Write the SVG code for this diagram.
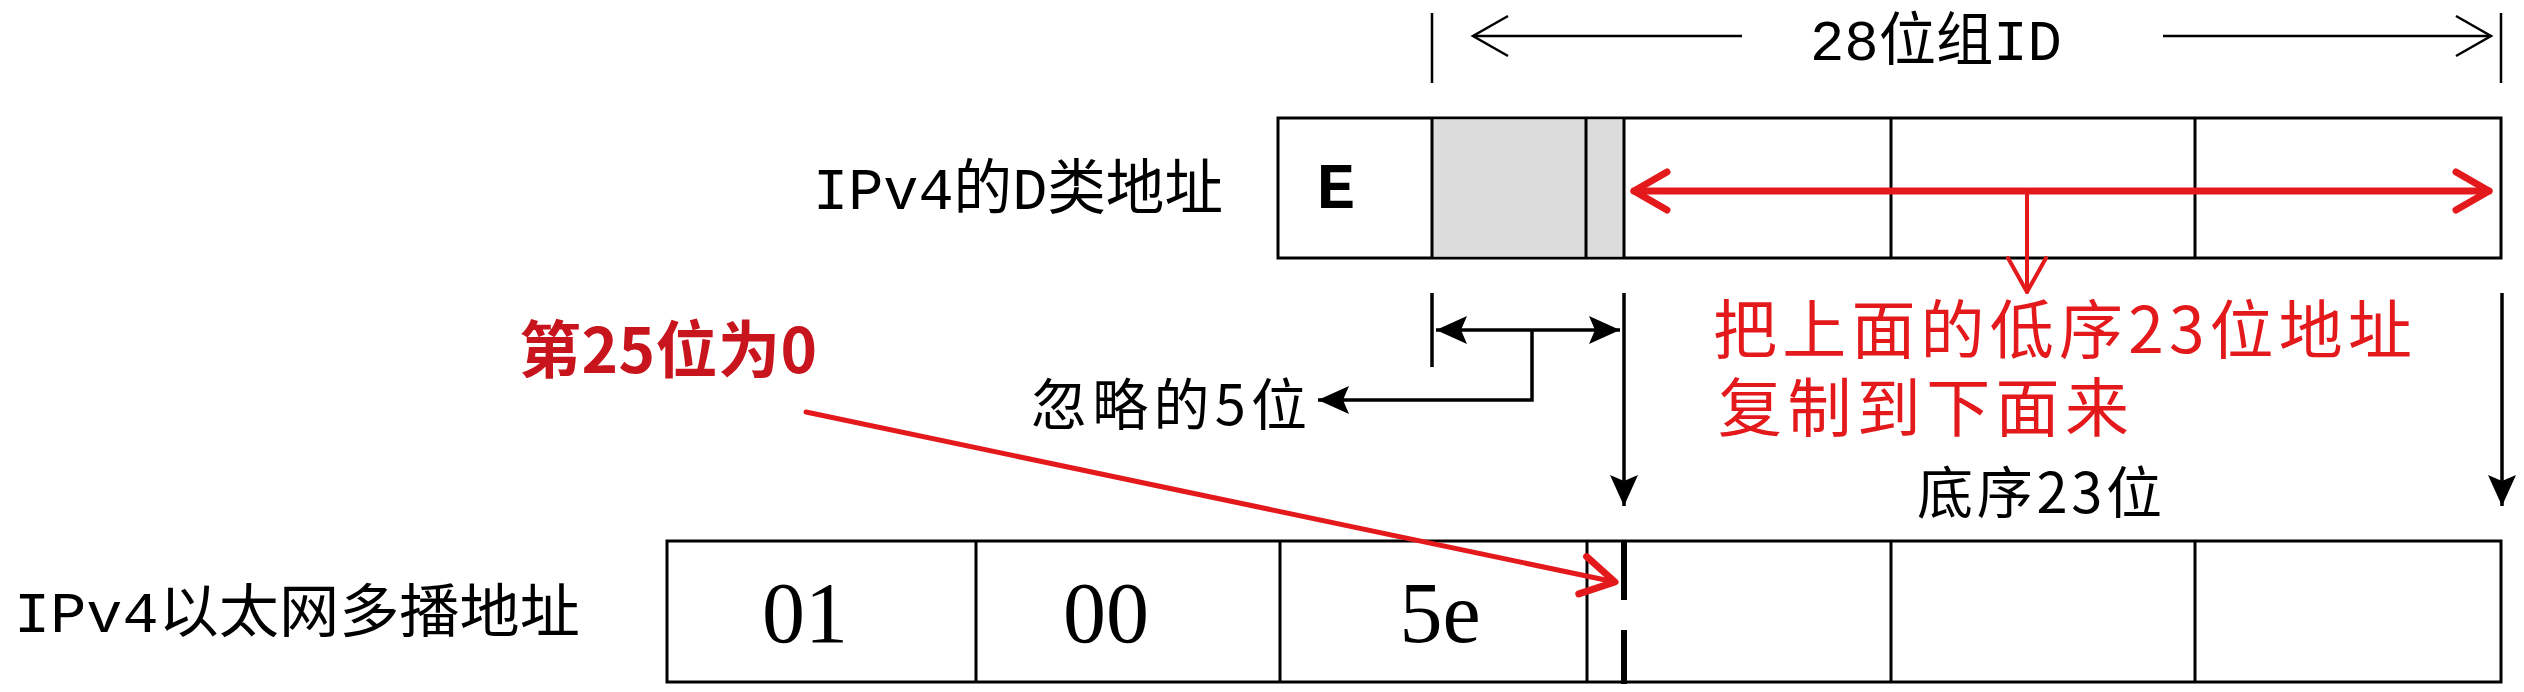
<svg xmlns="http://www.w3.org/2000/svg" width="2524" height="692" viewBox="0 0 2524 692">
<style>
.box{fill:#fff;stroke:#000;stroke-width:3}
.div{stroke:#000;stroke-width:3;fill:none}
.gray{fill:#dcdcdc;stroke:none}
.lbl{font-family:'Liberation Mono','Noto Sans CJK SC',monospace;fill:#000}
.cjk{font-family:'Noto Sans CJK SC',sans-serif;fill:#000}
.num{font-family:'Liberation Serif','Noto Sans CJK SC',serif;fill:#000;text-anchor:middle}
.red{font-family:'Noto Sans CJK SC',sans-serif;fill:#e3191c}
.dim{stroke:#000;stroke-width:2.5;fill:none}
.blk{stroke:#000;stroke-width:3.5;fill:none}
.rl{stroke:#e3191c;fill:none;stroke-linecap:round;stroke-linejoin:round}
</style>
<defs>
<marker id="chev" markerUnits="userSpaceOnUse" viewBox="-40 -25 45 50" refX="0" refY="0" markerWidth="45" markerHeight="50" orient="auto-start-reverse">
<path d="M-35,-20 L0,0 L-35,20" fill="none" stroke="#000" stroke-width="2.5"/>
</marker>
<marker id="fill" markerUnits="userSpaceOnUse" viewBox="-34 -18 36 36" refX="0" refY="0" markerWidth="36" markerHeight="36" orient="auto-start-reverse">
<path d="M0,0 L-31,-14 L-25,0 L-31,14 Z" fill="#000"/>
</marker>
<marker id="rchev" markerUnits="userSpaceOnUse" viewBox="-45 -28 52 56" refX="0" refY="0" markerWidth="52" markerHeight="56" orient="auto-start-reverse">
<path d="M-33,-19 L0,0 L-33,19" fill="none" stroke="#e3191c" stroke-width="7" stroke-linecap="round" stroke-linejoin="round"/>
</marker>
<marker id="rchevs" markerUnits="userSpaceOnUse" viewBox="-45 -28 52 56" refX="0" refY="0" markerWidth="52" markerHeight="56" orient="auto">
<path d="M-34,-19 L0,0 L-34,19" fill="none" stroke="#e3191c" stroke-width="4" stroke-linecap="round" stroke-linejoin="round"/>
</marker>
</defs>

<g id="ipv4-class-d">
<rect class="box" x="1278" y="118" width="1223" height="140"/>
<rect class="gray" x="1432" y="119.5" width="192" height="137"/>
<path class="div" d="M1432,118V258M1586,118V258M1624,118V258M1891,118V258M2195,118V258"/>
<text x="1336" y="208" text-anchor="middle" font-family="'Liberation Mono',monospace" font-weight="bold" font-size="64">E</text>
</g>

<g id="ipv4-ethernet-multicast">
<rect class="box" x="667" y="541" width="1834" height="141"/>
<path class="div" d="M976,541V682M1280,541V682M1587,541V682M1891,541V682M2195,541V682"/>
<path d="M1624,541V600M1624,630V684" stroke="#000" stroke-width="6" fill="none"/>
<text class="num" x="805" y="642" font-size="86">01</text>
<text class="num" x="1106" y="642" font-size="86">00</text>
<text class="num" x="1440" y="642" font-size="86">5e</text>
</g>

<g id="labels">
<text class="lbl" x="813" y="209" font-size="60" textLength="410" lengthAdjust="spacingAndGlyphs">IPv4的D类地址</text>
<text class="lbl" x="14" y="632" font-size="58" textLength="566" lengthAdjust="spacingAndGlyphs">IPv4以太网多播地址</text>
<text class="lbl" x="1810" y="60" font-size="58" textLength="252" lengthAdjust="spacingAndGlyphs">28位组ID</text>
<text class="cjk" x="1031" y="425" font-size="56" textLength="276" lengthAdjust="spacing">忽略的5位</text>
<text class="cjk" x="1917" y="513" font-size="56" textLength="245" lengthAdjust="spacing">底序23位</text>
<text class="red" x="519" y="373" font-size="62" font-weight="bold" fill="#c8141c" style="fill:#c8141c" textLength="298" lengthAdjust="spacing">第25位为0</text>
<text class="red" x="1713" y="353" font-size="64" textLength="699" lengthAdjust="spacing">把上面的低序23位地址</text>
<text class="red" x="1718" y="431" font-size="64" textLength="411" lengthAdjust="spacing">复制到下面来</text>
</g>

<g id="connectors">
<path class="dim" d="M1432,13V83M2501,13V83"/>
<path class="dim" d="M1742,36H1473" marker-end="url(#chev)"/>
<path class="dim" d="M2163,36H2491" marker-end="url(#chev)"/>
<path class="blk" d="M1432,293V367"/>
<path class="blk" d="M1624,293V506" marker-end="url(#fill)"/>
<path class="blk" d="M2502,293V506" marker-end="url(#fill)"/>
<path class="blk" d="M1436,330H1620" marker-start="url(#fill)" marker-end="url(#fill)"/>
<path class="blk" d="M1532,330V400H1318" marker-end="url(#fill)"/>
<path class="rl" stroke-width="7" d="M1634,191H2489" marker-start="url(#rchev)" marker-end="url(#rchev)"/>
<path class="rl" stroke-width="4" d="M2027,191V292" marker-end="url(#rchevs)"/>
<path class="rl" stroke-width="5" stroke="#d41c20" d="M806,412L1615,582" marker-end="url(#rchev)"/>
</g>
</svg>
